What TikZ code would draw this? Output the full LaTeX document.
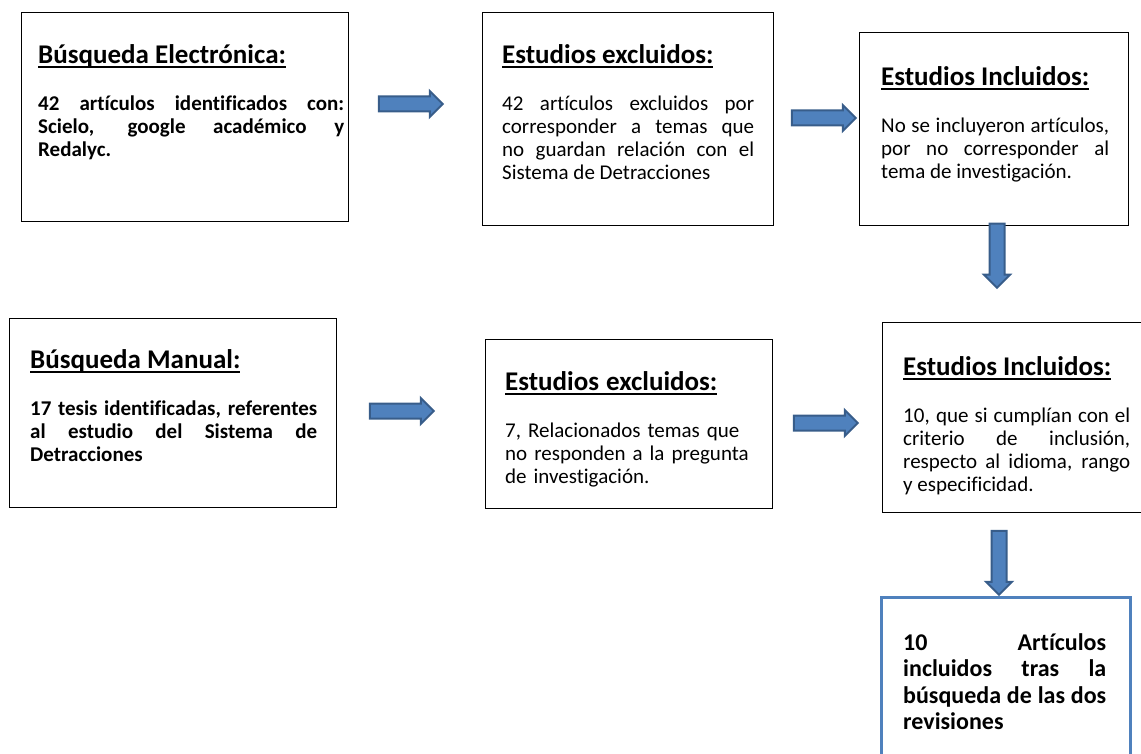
\documentclass[tikz,border=0pt]{standalone}
\usepackage{fontspec}
\setmainfont{Carlito}[Ligatures=NoCommon]
\usepackage{tikz}
\usetikzlibrary{shapes.arrows}
\definecolor{arrfill}{HTML}{4F81BD}
\definecolor{arrline}{HTML}{385D8A}
\hyphenpenalty=10000
\exhyphenpenalty=10000
\newcommand{\titleline}[1]{\setbox0=\hbox{#1}\rlap{\rule[-5pt]{\wd0}{2.4pt}}\box0}
\newcommand{\boxtitle}[1]{{\fontsize{27}{30}\selectfont\bfseries\titleline{#1}}\par\vspace{24pt}}

\begin{document}
\begin{tikzpicture}[x=1pt,y=-1pt,
	frame/.style={draw, line width=1.2pt, anchor=north west, inner sep=0pt},
	txt/.style={anchor=north west, inner sep=0pt, align=justify, font=\fontsize{21}{23}\selectfont},
	blockarrow/.style={single arrow, draw=arrline, fill=arrfill, line width=2pt, inner sep=6.5pt, minimum height=64pt, single arrow head extend=5.5pt}]
		\useasboundingbox (0,0) rectangle (1141,754);
		\node[frame, minimum width=327pt, minimum height=209pt] (elec) at (21,12) {};
		\node[txt, text width=306pt] (elec-txt) at ([shift={(17,32)}]elec.north west) {\bfseries\boxtitle{Búsqueda Electrónica:}42 artículos identificados con: \linebreak Scielo, google académico y \linebreak Redalyc.};
		\node[frame, minimum width=291pt, minimum height=213pt] (excl) at (482,12) {};
		\node[txt, text width=252pt] (excl-txt) at ([shift={(20,32)}]excl.north west) {\boxtitle{Estudios excluidos:}42 artículos excluidos por \linebreak corresponder a temas que \linebreak no guardan relación con el \linebreak Sistema de Detracciones};
		\node[frame, minimum width=269pt, minimum height=193pt] (incl) at (859,32) {};
		\node[txt, text width=228pt] (incl-txt) at ([shift={(22,34)}]incl.north west) {\boxtitle{Estudios Incluidos:}No se incluyeron artículos, \linebreak por no corresponder al \linebreak tema de investigación.};
		\node[frame, minimum width=327pt, minimum height=189pt] (man) at (9,318) {};
		\node[txt, text width=287pt] (man-txt) at ([shift={(21,31)}]man.north west) {\bfseries\boxtitle{Búsqueda Manual:}17 tesis identificadas, referentes \linebreak al estudio del Sistema de \linebreak Detracciones};
		\node[frame, minimum width=287pt, minimum height=169pt] (excl2) at (485,339) {};
		\node[txt, text width=250pt, align=left] (excl2-txt) at ([shift={(20,32)}]excl2.north west) {\boxtitle{Estudios excluidos:}7, Relacionados temas que\\ no responden a la pregunta\\ de investigación.};
		\node[frame, minimum width=262pt, minimum height=190pt] (incl2) at (882,322) {};
		\node[txt, text width=227pt] (incl2-txt) at ([shift={(21,34)}]incl2.north west) {\boxtitle{Estudios Incluidos:}10, que si cumplían con el \linebreak criterio de inclusión, \linebreak respecto al idioma, rango \linebreak y especificidad.};
		\node[draw=arrfill, line width=3pt, anchor=north west, inner sep=0pt, minimum width=249pt, minimum height=200pt] (fin) at (880,596) {};
		\node[txt, text width=203pt, font=\fontsize{24}{26.5}\selectfont\bfseries] (fin-txt) at ([shift={(23,37)}]fin.north west) {10 Artículos \linebreak incluidos tras la \linebreak búsqueda de las dos \linebreak revisiones};
		\node[blockarrow] (a1) at (407,104) {};
		\node[blockarrow] (a2) at (820,118) {};
		\node[blockarrow, shape border rotate=270] (d1) at (997,252) {};
		\node[blockarrow] (a3) at (398,411) {};
		\node[blockarrow] (a4) at (822,423) {};
		\node[blockarrow, shape border rotate=270] (d2) at (999,559) {};
	\end{tikzpicture}
\end{document}
